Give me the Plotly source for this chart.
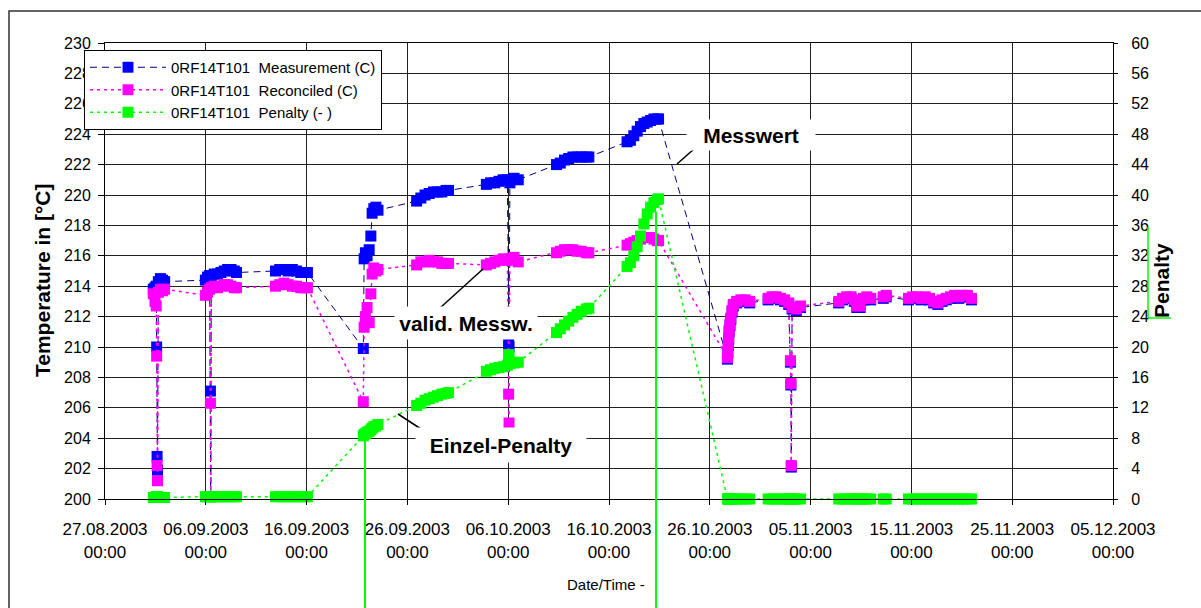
import plotly.graph_objects as go

# ---------------- data ----------------
times = [
    # cluster 1
    "2003-08-31 19:00", "2003-08-31 23:00", "2003-09-01 02:00", "2003-09-01 03:00",
    "2003-09-01 04:00", "2003-09-01 05:00", "2003-09-01 07:00", "2003-09-01 12:00",
    "2003-09-01 17:00", "2003-09-01 22:00",
    # cluster 2
    "2003-09-05 23:00", "2003-09-06 04:00", "2003-09-06 09:00", "2003-09-06 11:00",
    "2003-09-06 12:00", "2003-09-06 13:00", "2003-09-06 20:00", "2003-09-07 04:00",
    "2003-09-07 12:00", "2003-09-07 20:00", "2003-09-08 04:00", "2003-09-08 12:00",
    "2003-09-08 20:00", "2003-09-09 01:00",
    # cluster 3
    "2003-09-12 22:00", "2003-09-13 08:00", "2003-09-13 18:00", "2003-09-14 04:00",
    "2003-09-14 14:00", "2003-09-15 00:00", "2003-09-15 10:00", "2003-09-15 20:00",
    "2003-09-16 02:00",
    # cluster 4
    "2003-09-21 15:00", "2003-09-21 17:00", "2003-09-21 20:00", "2003-09-22 00:00",
    "2003-09-22 05:00", "2003-09-22 09:00", "2003-09-22 12:00", "2003-09-22 16:00",
    "2003-09-22 21:00", "2003-09-23 02:00",
    # cluster 5
    "2003-09-26 22:00", "2003-09-27 08:00", "2003-09-27 18:00", "2003-09-28 04:00",
    "2003-09-28 14:00", "2003-09-29 00:00", "2003-09-29 10:00", "2003-09-29 20:00",
    "2003-09-30 02:00",
    # cluster 6
    "2003-10-03 20:00", "2003-10-04 06:00", "2003-10-04 16:00", "2003-10-05 02:00",
    "2003-10-05 12:00", "2003-10-05 22:00", "2003-10-06 01:00", "2003-10-06 02:00",
    "2003-10-06 04:00", "2003-10-06 14:00", "2003-10-07 00:00",
    # cluster 7
    "2003-10-10 19:00", "2003-10-11 04:00", "2003-10-11 14:00", "2003-10-12 00:00",
    "2003-10-12 10:00", "2003-10-12 20:00", "2003-10-13 06:00", "2003-10-13 18:00",
    "2003-10-14 00:00",
    # cluster 8
    "2003-10-17 19:00", "2003-10-18 03:00", "2003-10-18 11:00", "2003-10-18 19:00",
    "2003-10-19 03:00", "2003-10-19 11:00", "2003-10-19 19:00", "2003-10-20 03:00",
    "2003-10-20 11:00", "2003-10-20 19:00", "2003-10-20 22:00",
    # cluster 9a
    "2003-10-27 18:00", "2003-10-27 19:00", "2003-10-27 20:00", "2003-10-27 21:00",
    "2003-10-27 22:00", "2003-10-28 00:00", "2003-10-28 02:00", "2003-10-28 05:00",
    "2003-10-28 08:00", "2003-10-28 16:00", "2003-10-29 02:00", "2003-10-29 12:00",
    "2003-10-29 23:00",
    # cluster 9b
    "2003-10-31 19:00", "2003-11-01 04:00", "2003-11-01 14:00", "2003-11-02 00:00",
    "2003-11-02 10:00", "2003-11-02 20:00", "2003-11-03 00:00", "2003-11-03 01:00",
    "2003-11-03 02:00", "2003-11-03 04:00", "2003-11-03 14:00", "2003-11-04 00:00",
    # cluster 9c
    "2003-11-07 19:00", "2003-11-08 04:00", "2003-11-08 14:00", "2003-11-09 00:00",
    "2003-11-09 08:00", "2003-11-09 14:00", "2003-11-09 22:00", "2003-11-10 06:00",
    "2003-11-10 14:00", "2003-11-10 23:00",
    # cluster 9d
    "2003-11-12 05:00", "2003-11-12 12:00",
    # cluster 9e
    "2003-11-14 17:00", "2003-11-15 03:00", "2003-11-15 13:00", "2003-11-15 23:00",
    "2003-11-16 09:00", "2003-11-16 19:00", "2003-11-17 05:00", "2003-11-17 15:00",
    "2003-11-18 01:00", "2003-11-18 11:00", "2003-11-18 21:00", "2003-11-19 07:00",
    "2003-11-19 17:00", "2003-11-20 03:00", "2003-11-20 13:00", "2003-11-20 23:00",
]

measurement = [
    213.8, 213.9, 214.0, 210.0, 202.8, 201.9, 214.3, 214.5, 214.4, 214.3,
    214.4, 214.6, 214.7, 207.1, 198.0, 214.6, 214.8, 214.8, 214.9, 215.0, 215.1, 215.1, 215.0, 214.9,
    215.0, 215.1, 215.1, 215.0, 215.1, 215.0, 214.9, 214.9, 214.9,
    209.9, 215.8, 216.2, 216.0, 216.4, 217.3, 218.8, 219.1, 219.2, 219.0,
    219.6, 219.8, 220.0, 220.1, 220.2, 220.2, 220.2, 220.3, 220.3,
    220.7, 220.8, 220.8, 220.9, 221.0, 221.0, 210.2, 210.0, 220.8, 221.1, 221.0,
    222.0, 222.1, 222.3, 222.4, 222.5, 222.5, 222.5, 222.5, 222.5,
    223.5, 223.6, 223.9, 224.2, 224.5, 224.7, 224.8, 224.9, 225.0, 225.0, 225.0,
    209.2, 209.6, 210.1, 210.5, 211.0, 211.4, 211.8, 212.3, 212.7, 212.9, 213.0, 213.0, 212.9,
    213.1, 213.2, 213.2, 213.1, 213.0, 212.8, 209.0, 207.5, 202.1, 212.5, 212.4, 212.6,
    212.9, 213.1, 213.2, 213.2, 213.0, 212.6, 212.6, 213.1, 213.2, 213.1,
    213.2, 213.3,
    213.1, 213.2, 213.2, 213.1, 213.2, 213.1, 212.9, 212.8, 213.0, 213.1, 213.2, 213.3,
    213.2, 213.3, 213.3, 213.1,
]

reconciled = [
    213.5, 213.0, 212.7, 209.4, 202.2, 201.2, 213.6, 213.8, 213.7, 213.8,
    213.4, 213.6, 213.8, 206.3, 198.0, 213.9, 214.0, 213.9, 214.0, 214.1, 214.1, 214.0, 213.9, 213.9,
    214.0, 214.1, 214.2, 214.1, 214.0, 214.0, 213.9, 213.9, 213.9,
    206.4, 211.3, 212.0, 212.6, 211.6, 213.5, 214.8, 215.2, 215.0, 215.1,
    215.4, 215.6, 215.6, 215.7, 215.6, 215.6, 215.5, 215.5, 215.5,
    215.4, 215.5, 215.6, 215.7, 215.8, 215.7, 206.9, 205.0, 215.8, 215.9, 215.6,
    216.2, 216.3, 216.4, 216.4, 216.4, 216.3, 216.3, 216.2, 216.2,
    216.7, 216.8, 216.9, 217.0, 217.1, 217.2, 217.2, 217.2, 217.1, 217.0, 217.0,
    209.3, 209.7, 210.2, 210.6, 211.1, 211.5, 211.9, 212.4, 212.8, 213.0, 213.1, 213.1, 213.0,
    213.2, 213.3, 213.3, 213.2, 213.1, 212.9, 209.1, 207.6, 202.2, 212.6, 212.5, 212.7,
    213.0, 213.2, 213.3, 213.3, 213.1, 212.7, 212.7, 213.2, 213.3, 213.2,
    213.3, 213.4,
    213.2, 213.3, 213.3, 213.2, 213.3, 213.2, 213.0, 212.9, 213.1, 213.2, 213.3, 213.4,
    213.3, 213.4, 213.4, 213.2,
]

penalty = [
    0.2, 0.2, 0.3, 0.3, 0.3, 0.3, 0.2, 0.2, 0.2, 0.2,
    0.3, 0.3, 0.3, 0.3, 0.3, 0.3, 0.3, 0.3, 0.3, 0.3, 0.3, 0.3, 0.3, 0.3,
    0.3, 0.3, 0.3, 0.3, 0.3, 0.3, 0.3, 0.3, 0.3,
    8.3, 8.5, 8.6, 8.8, 8.9, 9.1, 9.3, 9.5, 9.6, 9.8,
    12.3, 12.6, 13.0, 13.2, 13.4, 13.6, 13.8, 13.9, 14.0,
    16.8, 17.0, 17.2, 17.3, 17.4, 17.6, 19.0, 18.8, 17.8, 17.9, 18.0,
    21.9, 22.4, 22.9, 23.4, 23.9, 24.3, 24.7, 25.0, 25.1,
    30.6, 31.1, 32.0, 33.2, 34.6, 36.2, 37.5, 38.4, 39.0, 39.4, 39.5,
    0, 0, 0, 0, 0, 0, 0, 0, 0, 0, 0, 0, 0,
    0, 0, 0, 0, 0, 0, 0, 0, 0, 0, 0, 0,
    0, 0, 0, 0, 0, 0, 0, 0, 0, 0,
    0, 0,
    0, 0, 0, 0, 0, 0, 0, 0, 0, 0, 0, 0, 0, 0, 0, 0,
]

# vertical green marker lines (date, penalty value where they start)
drop_dates = ["2003-09-21 19:00", "2003-10-20 16:00"]
drop_values = [8.2, 37.8]

tick_dates = ["2003-08-27", "2003-09-06", "2003-09-16", "2003-09-26", "2003-10-06",
              "2003-10-16", "2003-10-26", "2003-11-05", "2003-11-15", "2003-11-25",
              "2003-12-05"]
tick_labels = ["27.08.2003<br>00:00", "06.09.2003<br>00:00", "16.09.2003<br>00:00",
               "26.09.2003<br>00:00", "06.10.2003<br>00:00", "16.10.2003<br>00:00",
               "26.10.2003<br>00:00", "05.11.2003<br>00:00", "15.11.2003<br>00:00",
               "25.11.2003<br>00:00", "05.12.2003<br>00:00"]

series_names = ["0RF14T101\u00a0 Measurement (C)",
                "0RF14T101\u00a0 Reconciled (C)",
                "0RF14T101\u00a0 Penalty (- )"]

# ---------------- layout constants ----------------
W, H = 1201, 608
L, R, T, B = 105, 88, 43, 109
PW, PH = W - L - R, H - T - B
Y1_RANGE = [200, 230]
Y2_RANGE = [0, 60]
FONT = "Liberation Sans, Arial, sans-serif"
MS = 11


def px_x(px):
    return (px - L) / PW


def px_y(py):
    return (H - B - py) / PH


def msize(vals, lo, s=MS):
    return [s if v >= lo else 0 for v in vals]


fig = go.Figure()
fig.add_trace(go.Scatter(
    x=times, y=measurement, name=series_names[0], mode="lines+markers",
    line=dict(color="#000080", width=1, dash="7px,5px"),
    marker=dict(symbol="square", size=msize(measurement, Y1_RANGE[0]), color="#0000ff",
                opacity=1, line=dict(width=0)),
    cliponaxis=False, yaxis="y"))
fig.add_trace(go.Scatter(
    x=times, y=reconciled, name=series_names[1], mode="lines+markers",
    line=dict(color="#ff00ff", width=1.5, dash="3px,4px"),
    marker=dict(symbol="square", size=msize(reconciled, Y1_RANGE[0]), color="#ff00ff",
                opacity=1, line=dict(width=0)),
    cliponaxis=False, yaxis="y"))
fig.add_trace(go.Scatter(
    x=times, y=penalty, name=series_names[2], mode="lines+markers",
    line=dict(color="#00ff00", width=1.5, dash="3px,4px"),
    marker=dict(symbol="square", size=msize(penalty, Y2_RANGE[0]), color="#00ff00",
                opacity=1, line=dict(width=0)),
    cliponaxis=False, yaxis="y2"))

shapes = []
# outer frame
shapes.append(dict(type="rect", xref="paper", yref="paper",
                   x0=px_x(9), x1=px_x(1210), y0=px_y(11), y1=px_y(640),
                   line=dict(color="#303030", width=1.5), fillcolor="rgba(0,0,0,0)",
                   layer="above"))
# green drop lines
for d, v in zip(drop_dates, drop_values):
    shapes.append(dict(type="line", xref="x", yref="paper", x0=d, x1=d,
                       y0=(v - Y2_RANGE[0]) / (Y2_RANGE[1] - Y2_RANGE[0]), y1=px_y(615),
                       line=dict(color="#00ff00", width=2), layer="above"))
# leader lines of the callouts
for (a, b, c, d) in [(694, 149, 677, 164), (440, 308, 483, 269), (421, 429, 398, 414)]:
    shapes.append(dict(type="line", xref="paper", yref="paper",
                       x0=px_x(a), y0=px_y(b), x1=px_x(c), y1=px_y(d),
                       line=dict(color="black", width=1.5), layer="above"))
# green bracket next to the right axis title
shapes.append(dict(type="line", xref="paper", yref="paper", x0=px_x(1148), x1=px_x(1148),
                   y0=px_y(227), y1=px_y(318), line=dict(color="#00ff00", width=1.5)))
shapes.append(dict(type="line", xref="paper", yref="paper", x0=px_x(1148), x1=px_x(1171),
                   y0=px_y(318), y1=px_y(318), line=dict(color="#00ff00", width=1.5)))

bold = dict(family=FONT, size=21, color="black", weight="bold")
ann_common = dict(xref="paper", yref="paper", showarrow=False,
                  xanchor="center", yanchor="middle")
annotations = [
    dict(text="Temperature in [°C]", x=px_x(42), y=px_y(280), textangle=-90,
         font=bold, **ann_common),
    dict(text="Penalty", x=px_x(1161), y=px_y(281), textangle=-90, font=bold, **ann_common),
    dict(text="Date/Time -", x=px_x(606), y=px_y(584),
         font=dict(family=FONT, size=15, color="black"), **ann_common),
    dict(text="Messwert", x=px_x(751), y=px_y(135), font=bold, bgcolor="white",
         width=128, height=30, borderpad=0, **ann_common),
    dict(text="valid. Messw.", x=px_x(466), y=px_y(323), font=bold, bgcolor="white",
         width=142, height=32, borderpad=0, **ann_common),
    dict(text="Einzel-Penalty", x=px_x(501), y=px_y(445), font=bold, bgcolor="white",
         width=170, height=34, borderpad=0, **ann_common),
]

axis_common = dict(showline=True, linecolor="black", linewidth=1, zeroline=False,
                   tickcolor="black")

fig.update_layout(
    width=W, height=H, autosize=False,
    margin=dict(l=L, r=R, t=T, b=B, pad=0),
    paper_bgcolor="white", plot_bgcolor="white",
    font=dict(family=FONT, color="black"),
    hovermode=False,
    xaxis=dict(type="date", range=[tick_dates[0], tick_dates[-1]],
               tickmode="array", tickvals=tick_dates, ticktext=tick_labels,
               showgrid=True, gridcolor="#202020", gridwidth=1, mirror=True,
               ticks="outside", ticklen=5, ticklabelstandoff=10,
               tickfont=dict(family=FONT, size=17, color="black"), **axis_common),
    yaxis=dict(range=Y1_RANGE, tick0=200, dtick=2, showgrid=True, gridcolor="#202020",
               gridwidth=1, ticks="outside", ticklen=6, ticklabelstandoff=4,
               tickfont=dict(family=FONT, size=16, color="black"), **axis_common),
    yaxis2=dict(range=Y2_RANGE, tick0=0, dtick=4, overlaying="y", side="right",
                showgrid=False, ticks="outside", ticklen=4, ticklabelstandoff=10,
                tickfont=dict(family=FONT, size=16, color="black"), **axis_common),
    legend=dict(x=px_x(84), y=px_y(50), xanchor="left", yanchor="top",
                bgcolor="white", bordercolor="black", borderwidth=1,
                font=dict(family=FONT, size=15, color="black"),
                itemwidth=76, tracegroupgap=0),
    shapes=shapes,
    annotations=annotations,
)

fig.write_html("out.html", config={"displayModeBar": False, "staticPlot": True},
               post_script="document.body.style.margin='0';")
